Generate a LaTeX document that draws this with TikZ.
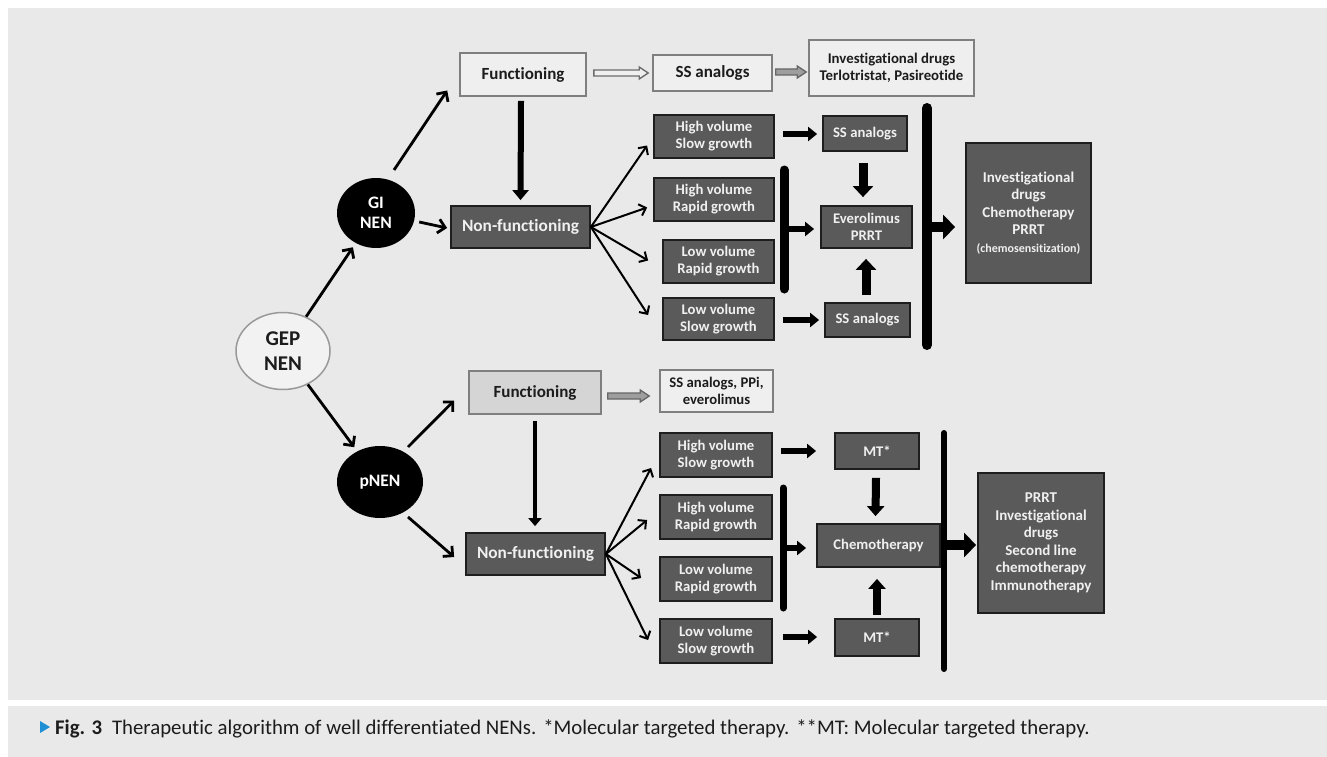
\documentclass[tikz,border=0pt]{standalone}
\usepackage{fontspec}
\setmainfont{Carlito}[Ligatures=CommonOff]
\usetikzlibrary{arrows.meta,shapes.geometric,calc}
\definecolor{panel}{HTML}{E9E9E9}
\definecolor{darkfill}{HTML}{5A5A5A}
\definecolor{darkedge}{HTML}{1E1E1E}
\definecolor{lightfill}{HTML}{EFEFEF}
\definecolor{lightedge}{HTML}{7F7F7F}
\definecolor{midfill}{HTML}{D5D5D5}
\definecolor{txt}{HTML}{1C1C1C}
\definecolor{capblue}{HTML}{1E8FD5}
\newcommand\hollowarr[5]{% style, start, end, shaft half, head half
  \draw[#1] let \p1=(#2), \p2=(#3) in
   (\x1,\y1+#4) -- (\x2-9pt,\y1+#4) -- (\x2-9pt,\y1+#5) -- (\x2,\y1)
   -- (\x2-9pt,\y1-#5) -- (\x2-9pt,\y1-#4) -- (\x1,\y1-#4) -- cycle;}
\tikzset{
  lbox/.style={draw=lightedge, fill=lightfill, line width=1.6pt, text=txt,
    font=\bfseries\fontsize{17}{20}\selectfont, align=center, inner sep=0pt},
  dbox/.style={draw=darkedge, fill=darkfill, line width=1.8pt, text=white!94!black,
    font=\bfseries\fontsize{14.7}{17}\selectfont, align=center, inner sep=0pt},
  blob/.style={ellipse, fill=black, text=white, inner sep=0pt,
    font=\bfseries\fontsize{17.5}{20}\selectfont, align=center},
  diag/.style={line width=2.8pt, -{Straight Barb[length=7pt,width=14pt]}},
  fan/.style={line width=2pt, -{Straight Barb[length=6pt,width=12pt]}},
  harr/.style={line width=6pt, -{Triangle[length=9pt,width=14pt]}},
  varr/.style={line width=9pt, -{Triangle[length=11pt,width=20pt]}},
  bigarr/.style={line width=10pt, -{Triangle[length=12pt,width=24pt]}},
  bar/.style={line cap=round},
  hollowA/.style={draw=lightedge!85!black, fill=lightfill, line width=1.4pt},
  hollowB/.style={draw=lightedge!80!black, fill=black!38, line width=1.3pt},
}
\begin{document}
\begin{tikzpicture}[x=1pt,y=-1pt]
\fill[white] (0,0) rectangle (1327,757);
\fill[panel] (8,8) rectangle (1327,700);
\fill[panel] (8,706) rectangle (1327,757);
\useasboundingbox (0,0) rectangle (1327,757);

% ---------- left ----------
\node[ellipse, draw=black!40, fill=panel!60!white, line width=1.5pt, minimum width=94, minimum height=77,
  inner sep=0pt, text=txt, font=\bfseries\fontsize{21}{25}\selectfont, align=center]
  (gep) at (283,351) {GEP\\NEN};
\node[blob, minimum width=78, minimum height=70] (gi) at (376,213) {GI\\NEN};
\node[blob, minimum width=86, minimum height=72] (pnen) at (380,482) {pNEN};

% ---------- GI part ----------
\node[lbox, minimum width=126, minimum height=43] (f1) at (523,74.5) {Functioning};
\node[lbox, minimum width=119, minimum height=36] (ss1) at (712.5,73) {SS analogs};
\node[lbox, minimum width=165, minimum height=56, font=\bfseries\fontsize{14.8}{17}\selectfont] (inv1) at (891.5,68)
  {Investigational drugs\\Terlotristat, Pasireotide};
\node[dbox, minimum width=139, minimum height=42, font=\bfseries\fontsize{17.3}{20}\selectfont] (nf1) at (520.5,227) {Non-functioning};
\node[dbox, minimum width=120, minimum height=43] (g1) at (714,136.5) {High volume\\Slow growth};
\node[dbox, minimum width=120, minimum height=43] (g2) at (714,199.5) {High volume\\Rapid growth};
\node[dbox, minimum width=111, minimum height=43] (g3) at (718.5,261.5) {Low volume\\Rapid growth};
\node[dbox, minimum width=111, minimum height=42] (g4) at (718.5,319) {Low volume\\Slow growth};
\node[dbox, minimum width=84, minimum height=35] (s2) at (865,133.5) {SS analogs};
\node[dbox, minimum width=91, minimum height=42] (ev) at (866.5,227) {Everolimus\\PRRT};
\node[dbox, minimum width=85, minimum height=34] (s3) at (867.5,320) {SS analogs};
\node[dbox, minimum width=125, minimum height=140, font=\bfseries\fontsize{15}{17.5}\selectfont] (R1) at (1028.5,213)
  {Investigational\\drugs\\Chemotherapy\\PRRT\\{\fontsize{12}{17.5}\selectfont(chemosensitization)}};

% ---------- pNEN part ----------
\node[lbox, fill=midfill, minimum width=132, minimum height=43] (f2) at (535,392.5) {Functioning};
\node[lbox, minimum width=113, minimum height=42, font=\bfseries\fontsize{14.7}{17}\selectfont] (ssp) at (716.5,391)
  {SS analogs, PPi,\\everolimus};
\node[dbox, minimum width=139, minimum height=42, font=\bfseries\fontsize{17.3}{20}\selectfont] (nf2) at (535.5,554) {Non-functioning};
\node[dbox, minimum width=112, minimum height=44] (p1) at (716,455) {High volume\\Slow growth};
\node[dbox, minimum width=112, minimum height=44] (p2) at (716,517) {High volume\\Rapid growth};
\node[dbox, minimum width=112, minimum height=44] (p3) at (716,579) {Low volume\\Rapid growth};
\node[dbox, minimum width=112, minimum height=44] (p4) at (716,641) {Low volume\\Slow growth};
\node[dbox, minimum width=84, minimum height=36] (mt1) at (877,451) {MT*};
\node[dbox, minimum width=84, minimum height=37] (mt2) at (877,637.5) {MT*};
\node[dbox, minimum width=123, minimum height=43] (ch) at (878.5,545.5) {Chemotherapy};
\node[dbox, minimum width=126, minimum height=140, font=\bfseries\fontsize{15}{17.5}\selectfont] (R2) at (1041,543)
  {PRRT\\Investigational\\drugs\\Second line\\chemotherapy\\Immunotherapy};

% ---------- bars ----------
\coordinate (b1t) at (784,170); \coordinate (b1b) at (784,289); \coordinate (b1m) at (784,229);
\coordinate (B1t) at (927,108); \coordinate (B1b) at (927,345); \coordinate (B1m) at (927,227);
\coordinate (b2t) at (783,488); \coordinate (b2b) at (783,608); \coordinate (b2m) at (783,548);
\coordinate (B2t) at (944,433); \coordinate (B2b) at (944,669); \coordinate (B2m) at (944,545);
\draw[bar, line width=9pt] (b1t) -- (b1b);
\draw[bar, line width=10pt] (B1t) -- (B1b);
\draw[bar, line width=7pt] (b2t) -- (b2b);
\draw[bar, line width=6pt] (B2t) -- (B2b);

% ---------- connectors: left ----------
\draw[diag, shorten >=5pt] (gep) -- (gi);
\draw[diag, shorten >=5pt] (gep) -- (pnen);
\draw[diag] ($(gi)+(18,-43)$) -- ($(f1.west)+(-12,16)$);
\draw[diag] ($(gi.east)+(4,9)$) -- ($(nf1.west)+(-3,1)$);
\draw[diag] ($(pnen)+(28,-35)$) -- ($(f2.west)+(-14,8)$);
\draw[diag] ($(pnen)+(28,35)$) -- ($(nf2.west)+(-11,3)$);
\draw[line width=6pt, -{Triangle[length=10pt,width=16pt]}] ($(f1.south)+(-2,4)$) -- ($(nf1.north)+(0,-5)$);
\draw[line width=4pt, -{Triangle[length=8pt,width=13pt]}] ($(f2.south)+(0,6)$) -- ($(nf2.north)+(-0.5,-6)$);

% ---------- hollow arrows ----------
\hollowarr{hollowA}{$(f1.east)+(7,-1.5)$}{$(ss1.west)+(-4,0)$}{3pt}{6pt}
\hollowarr{hollowB}{$(ss1.east)+(3,-1)$}{$(inv1.west)+(-2,0)$}{3pt}{6pt}
\hollowarr{hollowB}{$(f2.east)+(6,3.5)$}{$(ssp.west)+(-10,0)$}{3pt}{6pt}

% ---------- fans ----------
\draw[fan] (nf1.east) -- ($(g1.west)+(-6,9)$);
\draw[fan] (nf1.east) -- ($(g2.west)+(-6,8)$);
\draw[fan] (nf1.east) -- ($(g3.west)+(-14,-1)$);
\draw[fan] (nf1.east) -- ($(g4.west)+(-14,-4)$);
\draw[fan] (nf2.east) -- ($(p1.west)+(-8,13)$);
\draw[fan] (nf2.east) -- ($(p2.west)+(-12,3)$);
\draw[fan] (nf2.east) -- ($(p3.west)+(-18,-1)$);
\draw[fan] (nf2.east) -- ($(p4.west)+(-11,-1)$);

% ---------- GI right ----------
\draw[harr] ($(g1.east)+(8,-2.5)$) -- ($(s2.west)+(-5,0.5)$);
\draw[harr] ($(g4.east)+(8,1)$) -- ($(s3.west)+(-5,0)$);
\draw[varr] ($(s2.south)+(-2,11)$) -- ($(ev.north)+(-3.5,-8)$);
\draw[varr] ($(s3.north)+(-1.5,-7)$) -- ($(ev.south)+(-0.5,10)$);
\draw[harr, shorten >=6pt] (b1m) -- (b1m -| ev.west);
\draw[bigarr, shorten >=10pt] (B1m) -- (B1m -| R1.west);

% ---------- pNEN right ----------
\draw[harr] ($(p1.east)+(8,-4)$) -- ($(mt1.west)+(-18,0)$);
\draw[harr] ($(p4.east)+(10,-4)$) -- ($(mt2.west)+(-17,-0.5)$);
\draw[line width=8pt, -{Triangle[length=10pt,width=17pt]}] ($(mt1.south)+(-1,8)$) -- ($(ch.north)+(-3,-7)$);
\draw[line width=8pt, -{Triangle[length=10pt,width=17pt]}] ($(mt2.north)+(0,-3)$) -- ($(ch.south)+(-1.5,11)$);
\draw[harr, shorten >=10pt] (b2m) -- (b2m -| ch.west);
\draw[bigarr, shorten >=1pt] (B2m) -- (B2m -| R2.west);

% ---------- caption ----------
\fill[capblue] (40,721) -- (50,727) -- (40,733) -- cycle;
\node[anchor=base west, inner sep=0pt, text=txt, font=\fontsize{20.8}{24}\selectfont] (cap) at (55,734)
  {\textbf{Fig. 3}\hspace{10pt}Therapeutic algorithm of well differentiated NENs.\hspace{7pt}*Molecular targeted therapy.\hspace{7pt}**MT: Molecular targeted therapy.};
\end{tikzpicture}
\end{document}
